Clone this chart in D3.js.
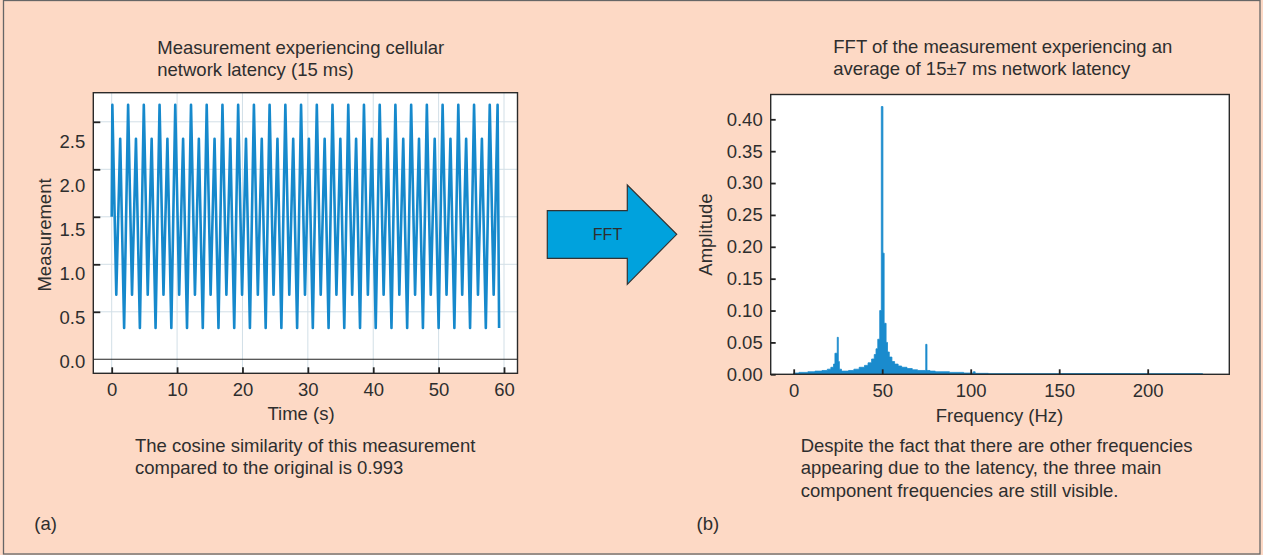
<!DOCTYPE html>
<html>
<head>
<meta charset="utf-8">
<script src="https://cdn.jsdelivr.net/npm/d3@7"></script>
<style>
  body { margin: 0; background: #fdd9c5; }
  text { font-family: "Liberation Sans", Arial, sans-serif; fill: #2e2e2e; }
</style>
</head>
<body>
<div id="chart"></div>
<script>
//Time series vertices
var timeS = [0, 0.10, 0.70, 1.30, 1.90, 2.51, 3.11, 3.71, 4.31, 4.91, 5.51, 6.11, 6.71,
    7.32, 7.92, 8.52, 9.12, 9.72, 10.32, 10.92, 11.52, 12.13, 12.73, 13.33, 13.93,
    14.53, 15.13, 15.73, 16.33, 16.94, 17.54, 18.14, 18.74, 19.34, 19.94, 20.54, 21.14,
    21.75, 22.35, 22.95, 23.55, 24.15, 24.75, 25.35, 25.95, 26.56, 27.16, 27.76, 28.36,
    28.96, 29.56, 30.16, 30.76, 31.37, 31.97, 32.57, 33.17, 33.77, 34.37, 34.97, 35.57,
    36.18, 36.78, 37.38, 37.98, 38.58, 39.18, 39.78, 40.38, 40.99, 41.59, 42.19, 42.79,
    43.39, 43.99, 44.59, 45.19, 45.80, 46.40, 47.00, 47.60, 48.20, 48.80, 49.40, 50.00,
    50.61, 51.21, 51.81, 52.41, 53.01, 53.61, 54.21, 54.81, 55.42, 56.02, 56.62, 57.22,
    57.82, 58.42, 59.02, 59.25];
var measurement = [1.5, 2.68, 0.68, 2.32, 0.33, 2.68, 0.68, 2.32, 0.33, 2.68, 0.68, 2.32, 0.33,
    2.68, 0.68, 2.32, 0.33, 2.68, 0.68, 2.32, 0.33, 2.68, 0.68, 2.32, 0.33,
    2.68, 0.68, 2.32, 0.33, 2.68, 0.68, 2.32, 0.33, 2.68, 0.68, 2.32, 0.33,
    2.68, 0.68, 2.32, 0.33, 2.68, 0.68, 2.32, 0.33, 2.68, 0.68, 2.32, 0.33,
    2.68, 0.68, 2.32, 0.33, 2.68, 0.68, 2.32, 0.33, 2.68, 0.68, 2.32, 0.33,
    2.68, 0.68, 2.32, 0.33, 2.68, 0.68, 2.32, 0.33, 2.68, 0.68, 2.32, 0.33,
    2.68, 0.68, 2.32, 0.33, 2.68, 0.68, 2.32, 0.33, 2.68, 0.68, 2.32, 0.33,
    2.68, 0.68, 2.32, 0.33, 2.68, 0.68, 2.32, 0.33, 2.68, 0.68, 2.32, 0.33,
    2.68, 0.68, 2.68, 0.33];
var timeTicks = [0, 10, 20, 30, 40, 50, 60];
var measTicks = [0, 0.5, 1.0, 1.5, 2.0, 2.5];

//Spectrum, amplitude holds until the next frequency
var fftFreq = [0, 3, 8, 12, 16, 19, 21, 22.5, 23.3, 24.6, 25.2, 25.8, 27, 31, 34, 37, 40, 42, 44, 45.5,
    46.5, 47.5, 48.6, 49.5, 50.4, 51.1, 52.2, 53, 54, 55.5, 57, 59, 61, 64, 67, 70, 74.6, 75.3, 77, 80,
    88, 96, 101.5, 102.5, 110, 150, 190, 231];
var fftAmp = [0.002, 0.003, 0.004, 0.005, 0.006, 0.008, 0.011, 0.016, 0.033, 0.058, 0.02, 0.008, 0.005, 0.006, 0.008, 0.011, 0.014, 0.018, 0.024, 0.031,
    0.04, 0.055, 0.1, 0.42, 0.19, 0.08, 0.05, 0.035, 0.027, 0.02, 0.016, 0.013, 0.011, 0.009, 0.007, 0.006, 0.047, 0.006, 0.005, 0.004,
    0.003, 0.002, 0.004, 0.0015, 0.001, 0.0012, 0.001, 0];
var freqTicks = [0, 50, 100, 150, 200];
var ampTicks = [0, 0.05, 0.10, 0.15, 0.20, 0.25, 0.30, 0.35, 0.40];

var titleA = ["Measurement experiencing cellular", "network latency (15 ms)"];
var captionA = ["The cosine similarity of this measurement", "compared to the original is 0.993"];
var titleB = ["FFT of the measurement experiencing an", "average of 15\u00b17 ms network latency"];
var captionB = ["Despite the fact that there are other frequencies",
    "appearing due to the latency, the three main",
    "component frequencies are still visible."];

function init() {
    var w = 1263;
    var h = 555;
    var fontSize = 18.5;

    var svg = d3.select("#chart").append("svg")
        .attr("width", w)
        .attr("height", h)
        .style("display", "block");

    svg.append("rect").attr("width", w).attr("height", h).attr("fill", "#fdd9c5");
    svg.append("rect")
        .attr("x", 3.5).attr("y", 0.5)
        .attr("width", w - 6.5).attr("height", h - 1.5)
        .attr("fill", "none").attr("stroke", "#666").attr("stroke-width", 1.3);

    //Writes a block of lines starting at a baseline
    function textBlock(lines, x, y, anchor) {
        var t = svg.append("text")
            .attr("x", x).attr("y", y)
            .style("font-size", fontSize + "px")
            .style("text-anchor", anchor || "start");
        lines.forEach((l, i) => {
            t.append("tspan").attr("x", x).attr("dy", i === 0 ? 0 : 22.4).text(l);
        });
    }

    // ---------- panel (a) ----------
    var boxA = { x0: 93.3, x1: 517.5, y0: 92.7, y1: 373.3 };
    var xA = d3.scaleLinear().domain([0, 60]).range([111.7, 504]);
    var yA = d3.scaleLinear().domain([0, 2.5]).range([359.3, 121.8]);
    //the printed labels sit a bit apart from their ticks in the reference
    var yALabel = d3.scaleLinear().domain([0, 2.5]).range([361.7, 141.7]);

    svg.append("rect")
        .attr("x", boxA.x0).attr("y", boxA.y0)
        .attr("width", boxA.x1 - boxA.x0).attr("height", boxA.y1 - boxA.y0)
        .attr("fill", "#fff");

    var gridA = svg.append("g").attr("stroke", "#d2dfe7").attr("stroke-width", 1);
    gridA.selectAll("line.v").data(timeTicks).enter().append("line")
        .attr("x1", d => xA(d)).attr("x2", d => xA(d))
        .attr("y1", boxA.y0).attr("y2", boxA.y1);
    gridA.selectAll("line.h").data(measTicks.filter(d => d > 0)).enter().append("line")
        .attr("x1", boxA.x0).attr("x2", boxA.x1)
        .attr("y1", d => yA(d)).attr("y2", d => yA(d));

    //zero line
    svg.append("line")
        .attr("x1", boxA.x0).attr("x2", boxA.x1)
        .attr("y1", yA(0)).attr("y2", yA(0))
        .attr("stroke", "#222").attr("stroke-width", 1.1);

    var line = d3.line()
        .x((d, i) => xA(timeS[i]))
        .y(d => yA(d));
    svg.append("path")
        .datum(measurement)
        .attr("d", line)
        .attr("fill", "none")
        .attr("stroke", "#1689cc")
        .attr("stroke-width", 2.6)
        .attr("stroke-linejoin", "round");

    svg.append("rect")
        .attr("x", boxA.x0).attr("y", boxA.y0)
        .attr("width", boxA.x1 - boxA.x0).attr("height", boxA.y1 - boxA.y0)
        .attr("fill", "none").attr("stroke", "#2a2a2a").attr("stroke-width", 1.4);

    var xAxisA = svg.append("g")
        .attr("transform", `translate(0,${boxA.y1})`)
        .call(d3.axisBottom(xA).tickValues(timeTicks).tickSize(-6).tickPadding(9.6));
    var yTickA = svg.append("g")
        .attr("transform", `translate(${boxA.x0},0)`)
        .call(d3.axisLeft(yA).tickValues(measTicks.filter(d => d > 0)).tickSize(-7).tickFormat(""));
    var yLabA = svg.append("g")
        .attr("transform", `translate(${boxA.x0},0)`)
        .call(d3.axisLeft(yALabel).tickValues(measTicks).tickSize(0).tickPadding(8).tickFormat(d3.format(".1f")));
    yLabA.selectAll("line").remove();
    xAxisA.selectAll("line").attr("stroke-width", 1.8);

    svg.append("text")
        .attr("x", 301).attr("y", 420)
        .style("font-size", fontSize + "px").style("text-anchor", "middle")
        .text("Time (s)");
    svg.append("text")
        .attr("transform", "translate(50.5,235) rotate(-90)")
        .style("font-size", fontSize + "px").style("text-anchor", "middle")
        .text("Measurement");

    textBlock(titleA, 157.3, 53.8);
    textBlock(captionA, 135, 451.7);
    textBlock(["(a)"], 34.3, 530);

    // ---------- arrow ----------
    var arrow = [[547.3, 210.7], [627.3, 210.7], [627.3, 185], [676.7, 234.3],
        [627.3, 284.3], [627.3, 258.3], [547.3, 258.3]];
    svg.append("polygon")
        .attr("points", arrow.map(p => p.join(",")).join(" "))
        .attr("fill", "#00a2dd")
        .attr("stroke", "#333").attr("stroke-width", 1.2);
    svg.append("text")
        .attr("x", 607.5).attr("y", 240)
        .style("font-size", "16px").style("text-anchor", "middle")
        .text("FFT");

    // ---------- panel (b) ----------
    var boxB = { x0: 770.7, x1: 1229.3, y0: 94.5, y1: 374.3 };
    var xB = d3.scaleLinear().domain([0, 200]).range([793.7, 1147.7]);
    var yB = d3.scaleLinear().domain([0, 0.40]).range([374.3, 119.3]);

    svg.append("rect")
        .attr("x", boxB.x0).attr("y", boxB.y0)
        .attr("width", boxB.x1 - boxB.x0).attr("height", boxB.y1 - boxB.y0)
        .attr("fill", "#fff");

    var area = d3.area()
        .curve(d3.curveStepAfter)
        .x((d, i) => xB(fftFreq[i]))
        .y0(yB(0))
        .y1(d => yB(d));
    svg.append("path")
        .datum(fftAmp)
        .attr("d", area)
        .attr("fill", "#1a8bcd")
        .attr("stroke", "#1a8bcd")
        .attr("stroke-width", 0.8);

    svg.append("rect")
        .attr("x", boxB.x0).attr("y", boxB.y0)
        .attr("width", boxB.x1 - boxB.x0).attr("height", boxB.y1 - boxB.y0)
        .attr("fill", "none").attr("stroke", "#2a2a2a").attr("stroke-width", 1.4);

    var xAxisB = svg.append("g")
        .attr("transform", `translate(0,${boxB.y1})`)
        .call(d3.axisBottom(xB).tickValues(freqTicks).tickSize(-5).tickPadding(9.3));
    var yAxisB = svg.append("g")
        .attr("transform", `translate(${boxB.x0},0)`)
        .call(d3.axisLeft(yB).tickValues(ampTicks).tickSize(-5).tickPadding(8).tickFormat(d3.format(".2f")));
    xAxisB.selectAll("line").attr("stroke-width", 1.8);
    yAxisB.selectAll("line").attr("stroke-width", 1.8);

    svg.append("text")
        .attr("x", 999.5).attr("y", 421.7)
        .style("font-size", fontSize + "px").style("text-anchor", "middle")
        .text("Frequency (Hz)");
    svg.append("text")
        .attr("transform", "translate(712,234.5) rotate(-90)")
        .style("font-size", fontSize + "px").style("text-anchor", "middle")
        .text("Amplitude");

    textBlock(titleB, 833.3, 52.5);
    textBlock(captionB, 800.7, 451.7);
    textBlock(["(b)"], 696.5, 530);

    //Shared axis styling
    [xAxisA, yTickA, yLabA, xAxisB, yAxisB].forEach(g => {
        g.select(".domain").remove();
        g.selectAll("line").attr("stroke", "#222");
        g.selectAll("text")
            .style("font-size", fontSize + "px")
            .style("font-family", "'Liberation Sans', Arial, sans-serif")
            .attr("fill", "#2e2e2e");
    });
    yTickA.selectAll("line").attr("stroke-width", 1.8);
}

window.onload = init;
</script>
</body>
</html>
